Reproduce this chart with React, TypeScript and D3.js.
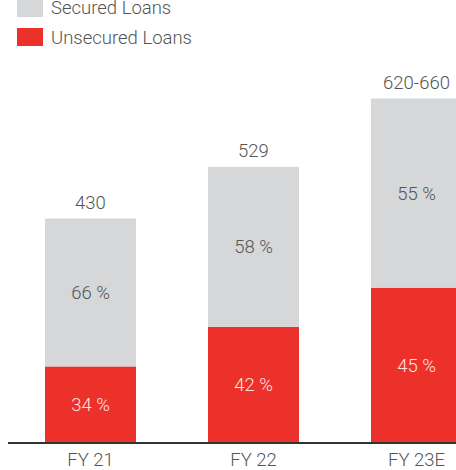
import React from "react";
import * as d3 from "d3";

const categories = ["FY 21", "FY 22", "FY 23E"];
const totals = [430, 529, 660];
const totalLabels = ["430", "529", "620-660"];
const securedPct = [66, 58, 55];
const unsecuredPct = [34, 42, 45];
const legendItems = ["Secured Loans", "Unsecured Loans"];

const W = 456;
const H = 470;
const GREY = "#d6d7d9";
const RED = "#eb312a";
const TEXT = "#555555";
const FONT = "Roboto, 'Noto Sans', sans-serif";
const FS = 18.5;

export default function App() {
  const baseY = 443;
  const x = d3
    .scaleBand<string>()
    .domain(categories)
    .range([0, 507])
    .paddingInner(72 / 163)
    .paddingOuter(45 / 163);
  const y = d3.scaleLinear().domain([0, 660]).range([baseY, 98.5]);
  const bw = x.bandwidth();

  return (
    <svg
      width={W}
      height={H}
      style={{ position: "absolute", left: 0, top: 0, background: "#fff" }}
      fontFamily={FONT}
    >
      {legendItems.map((t, i) => (
        <g key={t}>
          <rect x={17} y={-1 + i * 29} width={26} height={18} fill={i === 0 ? GREY : RED} />
          <text x={51} y={8 + i * 30} dy="0.35em" fontSize={FS} fontWeight={300} fill={TEXT}>
            {t}
          </text>
        </g>
      ))}
      {categories.map((c, i) => {
        const x0 = x(c)!;
        const cx = x0 + bw / 2;
        const total = totals[i];
        const redTop = y((total * unsecuredPct[i]) / 100);
        const top = y(total);
        return (
          <g key={c}>
            <rect x={x0} y={top} width={bw} height={redTop - top} fill={GREY} />
            <rect x={x0} y={redTop} width={bw} height={baseY - redTop} fill={RED} />
            <text x={cx} y={(top + redTop) / 2} dy="0.35em" textAnchor="middle" fontSize={FS} fontWeight={300} fill={TEXT}>
              {securedPct[i]} %
            </text>
            <text x={cx} y={(redTop + baseY) / 2} dy="0.35em" textAnchor="middle" fontSize={FS} fontWeight={300} fill="#fde3e1">
              {unsecuredPct[i]} %
            </text>
            <text x={cx} y={top - 16} dy="0.35em" textAnchor="middle" fontSize={FS} fontWeight={300} fill={TEXT}>
              {totalLabels[i]}
            </text>
            <text x={cx} y={460} dy="0.35em" textAnchor="middle" fontSize={FS} fontWeight={300} fill={TEXT}>
              {c}
            </text>
          </g>
        );
      })}
      <line x1={8} x2={W} y1={baseY} y2={baseY} stroke="#333" strokeWidth={2} />
    </svg>
  );
}
